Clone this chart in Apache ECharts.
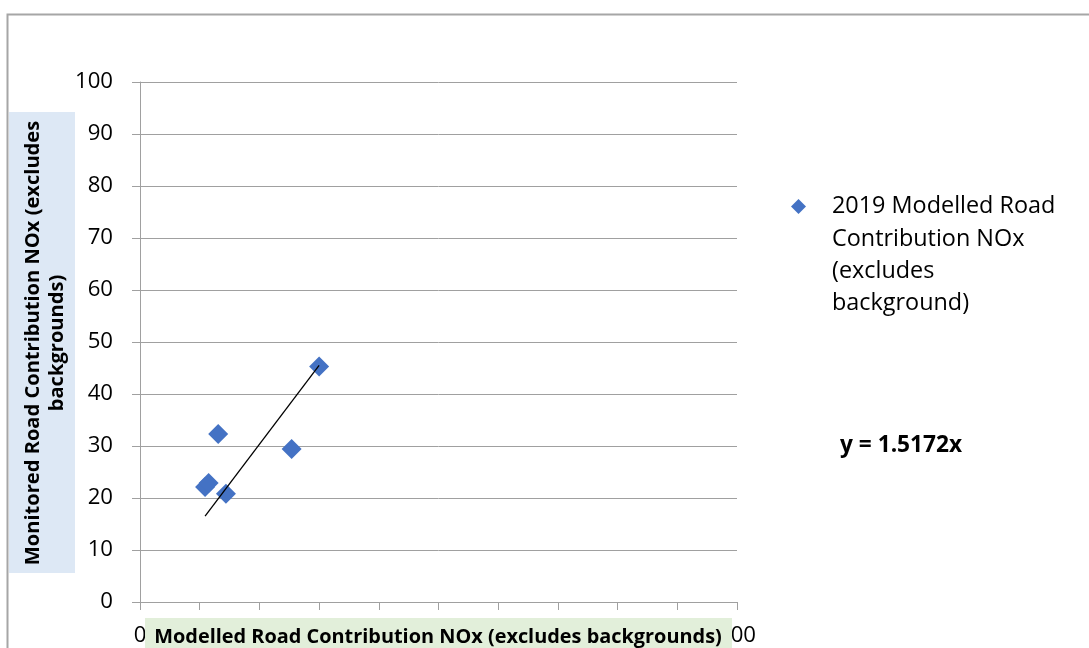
<!DOCTYPE html>
<html>
<head>
<meta charset="utf-8">
<script src="https://cdn.jsdelivr.net/npm/echarts@6/dist/echarts.min.js"></script>
<style>
html,body{margin:0;padding:0;background:#fff;}
#chart{width:1089px;height:648px;}
</style>
</head>
<body>
<div id="chart"></div>
<script>
// Data
const seriesName = '2019 Modelled Road Contribution NOx (excludes background)';
const legendLines = ['2019 Modelled Road', 'Contribution NOx', '(excludes', 'background)'];
const modelledX = [10.9, 11.5, 13.1, 14.4, 25.4, 30.0];
const monitoredY = [22.1, 22.9, 32.3, 20.8, 29.4, 45.3];
const trendX = [10.9, 30.0];
const trendY = [16.5, 45.5];
const equationText = 'y = 1.5172x';
const xTitle = 'Modelled Road Contribution NOx (excludes backgrounds)';
const yTitleLines = ['Monitored Road Contribution NOx (excludes', 'backgrounds)'];
const axisMin = 0, axisMax = 100, axisStep = 10;

const FAMILY = '"Open Sans", sans-serif';
const ctx = document.createElement('canvas').getContext('2d');
function fitSize(text, weight, target) {
  ctx.font = weight + ' 100px ' + FAMILY;
  const w = ctx.measureText(text).width;
  return Math.round(100 * target / w * 10) / 10;
}
const tickSize = fitSize('100', 'normal', 38);
const xTitleSize = fitSize(xTitle, 'bold', 567);
const yTitleSize = fitSize(yTitleLines[0], 'bold', 445);
const legendSize = fitSize(legendLines[0], 'normal', 223);
const eqSize = fitSize(equationText, 'bold', 122);

const chart = echarts.init(document.getElementById('chart'), null, {renderer: 'canvas'});

const scatterData = modelledX.map((x, i) => [x, monitoredY[i]]);
const trendData = trendX.map((x, i) => [x, trendY[i]]);

chart.setOption({
  animation: false,
  backgroundColor: '#ffffff',
  grid: {left: 140, right: 352, top: 82, bottom: 46},
  xAxis: {
    type: 'value', min: axisMin, max: axisMax, interval: axisStep,
    axisLine: {show: true, lineStyle: {color: '#a0a0a0', width: 1}},
    axisTick: {show: true, inside: false, length: 8, lineStyle: {color: '#a0a0a0'}},
    axisLabel: {show: true, margin: 23, color: '#000', fontSize: tickSize, fontFamily: FAMILY},
    splitLine: {show: false}
  },
  yAxis: {
    type: 'value', min: axisMin, max: axisMax, interval: axisStep,
    axisLine: {show: true, lineStyle: {color: '#a0a0a0', width: 1}},
    axisTick: {show: true, inside: false, length: 8, lineStyle: {color: '#a0a0a0'}},
    axisLabel: {show: true, margin: 27, color: '#000', fontSize: tickSize, fontFamily: FAMILY},
    splitLine: {show: true, lineStyle: {color: '#a0a0a0', width: 1}}
  },
  legend: {
    show: true,
    left: 791, top: 195,
    padding: 0,
    itemWidth: 15, itemHeight: 15,
    itemGap: 10,
    icon: 'diamond',
    data: [seriesName],
    formatter: function () { return legendLines[0]; },
    itemStyle: {color: '#4472C4', opacity: 1},
    textStyle: {color: '#000', fontSize: legendSize, fontFamily: FAMILY, padding: [0, 0, 0, 21]}
  },
  series: [
    {
      name: seriesName,
      type: 'scatter',
      symbol: 'diamond',
      symbolSize: 20,
      itemStyle: {color: '#4472C4', opacity: 1},
      data: scatterData,
      z: 3
    },
    {
      name: 'trend',
      type: 'line',
      data: trendData,
      symbol: 'none',
      lineStyle: {color: '#000', width: 1.3},
      z: 4
    }
  ],
  graphic: [
    {
      type: 'rect', z: 0, silent: true,
      shape: {x: 7.5, y: 14.5, width: 1200, height: 800},
      style: {fill: 'none', stroke: '#a6a6a6', lineWidth: 2}
    },
    {
      type: 'rect', z: 100, silent: true,
      shape: {x: 145, y: 618, width: 587, height: 40},
      style: {fill: '#e2efda'}
    },
    {
      type: 'text', z: 101, silent: true,
      x: 438, y: 637,
      style: {text: xTitle, fill: '#000', font: 'bold ' + xTitleSize + 'px ' + FAMILY, align: 'center', verticalAlign: 'middle'}
    },
    {
      type: 'rect', z: 100, silent: true,
      shape: {x: 9, y: 112, width: 66, height: 461},
      style: {fill: '#dde8f5'}
    },
    {
      type: 'text', z: 101, silent: true,
      x: 45, y: 343, rotation: Math.PI / 2,
      style: {text: yTitleLines.join('\n'), fill: '#000', font: 'bold ' + yTitleSize + 'px ' + FAMILY, align: 'center', verticalAlign: 'middle', lineHeight: 24}
    },
    {
      type: 'text', z: 101, silent: true,
      x: 832, y: 223,
      style: {text: legendLines.slice(1).join('\n'), fill: '#000', font: legendSize + 'px ' + FAMILY, align: 'left', verticalAlign: 'top', lineHeight: 32}
    },
    {
      type: 'text', z: 101, silent: true,
      x: 840, y: 446,
      style: {text: equationText, fill: '#000', font: 'bold ' + eqSize + 'px ' + FAMILY, align: 'left', verticalAlign: 'middle'}
    }
  ]
});
</script>
</body>
</html>
